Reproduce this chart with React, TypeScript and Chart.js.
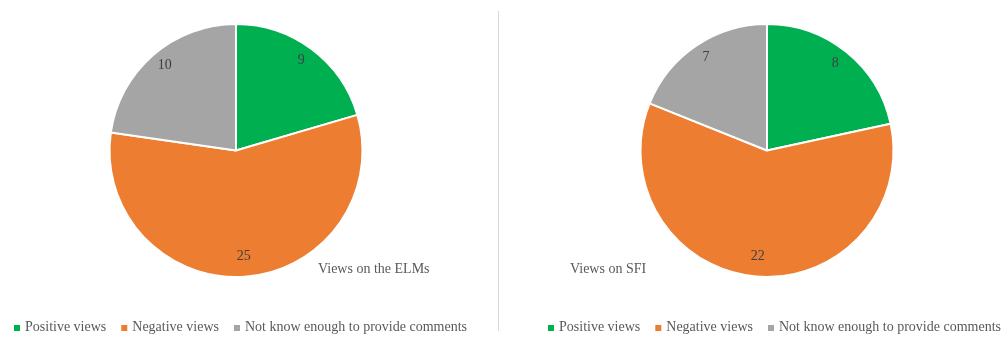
import React, { useEffect, useRef } from "react";
import { Chart, registerables } from "chart.js";

Chart.register(...registerables);

// Answer categories shared by both pies
const categories = [
  "Positive views",
  "Negative views",
  "Not know enough to provide comments",
];
// Counts of responses per category
const elmValues = [9, 25, 10];
const sfiValues = [8, 22, 7];
const sliceColors = ["#00B050", "#ED7D31", "#A5A5A5"];

const SERIF = '"Liberation Serif", "Times New Roman", serif';

// Value labels placed inside each slice along its bisector
const valueLabels = {
  id: "valueLabels",
  afterDatasetsDraw(chart: any, _args: any, opts: any) {
    const ctx = chart.ctx;
    const meta = chart.getDatasetMeta(0);
    const data = chart.data.datasets[0].data as number[];
    ctx.save();
    ctx.font = `14px ${SERIF}`;
    ctx.fillStyle = "#404040";
    ctx.textAlign = "center";
    ctx.textBaseline = "middle";
    meta.data.forEach((arc: any, i: number) => {
      const p = arc.getProps(["x", "y", "startAngle", "endAngle", "outerRadius"], true);
      const mid = (p.startAngle + p.endAngle) / 2;
      const r = p.outerRadius * (opts.radiusRatio ?? 0.86);
      ctx.fillText(
        String(data[i]),
        p.x + Math.cos(mid) * r,
        p.y + Math.sin(mid) * r + (opts.dy ?? 0)
      );
    });
    ctx.restore();
  },
};

// Caption text for each pie
const caption = {
  id: "caption",
  afterDraw(chart: any, _args: any, opts: any) {
    const ctx = chart.ctx;
    ctx.save();
    ctx.font = `14px ${SERIF}`;
    ctx.fillStyle = "#595959";
    ctx.textAlign = "left";
    ctx.textBaseline = "alphabetic";
    ctx.fillText(opts.text, opts.x, opts.y);
    ctx.restore();
  },
};

// Single-row legend with small square swatches sitting on the text baseline
const squareLegend = {
  id: "squareLegend",
  afterDraw(chart: any, _args: any, opts: any) {
    const ctx = chart.ctx;
    const labels = chart.data.labels as string[];
    const colors = chart.data.datasets[0].backgroundColor as string[];
    const box = 6;
    const textGap = 5;
    const itemGap = 15;
    ctx.save();
    ctx.font = `14px ${SERIF}`;
    const widths = labels.map((l) => box + textGap + ctx.measureText(l).width);
    const total = widths.reduce((a, b) => a + b, 0) + itemGap * (labels.length - 1);
    let x = opts.centerX - total / 2;
    const base = opts.baseline;
    ctx.textAlign = "left";
    ctx.textBaseline = "alphabetic";
    labels.forEach((l, i) => {
      ctx.fillStyle = colors[i];
      ctx.fillRect(x, base - box, box, box);
      ctx.fillStyle = "#595959";
      ctx.fillText(l, x + box + textGap, base);
      x += widths[i] + itemGap;
    });
    ctx.restore();
  },
};

type PieProps = {
  values: number[];
  width: number;
  left: number;
  padding: { left: number; right: number; top: number; bottom: number };
  captionText: string;
  captionX: number;
  legendCenter: number;
};

function Pie({ values, width, left, padding, captionText, captionX, legendCenter }: PieProps) {
  const ref = useRef<HTMLCanvasElement | null>(null);
  useEffect(() => {
    if (!ref.current) return;
    const chart = new Chart(ref.current, {
      type: "pie",
      data: {
        labels: categories,
        datasets: [
          {
            data: values,
            backgroundColor: sliceColors,
            borderColor: "#ffffff",
            borderWidth: 2,
            hoverOffset: 0,
          },
        ],
      },
      options: {
        responsive: false,
        animation: false,
        devicePixelRatio: 1,
        layout: { padding },
        plugins: {
          legend: { display: false },
          tooltip: { enabled: false },
          valueLabels: { radiusRatio: 0.86, dy: -3 },
          caption: { text: captionText, x: captionX, y: 273 },
          squareLegend: { centerX: legendCenter, baseline: 331 },
        } as any,
      },
      plugins: [valueLabels, caption, squareLegend],
    });
    return () => chart.destroy();
  }, []);
  return (
    <canvas
      ref={ref}
      width={width}
      height={337}
      style={{ position: "absolute", left, top: 0, width, height: 337 }}
    />
  );
}

export default function App() {
  return (
    <div
      style={{
        position: "absolute",
        left: 0,
        top: 0,
        width: 1003,
        height: 337,
        background: "#ffffff",
        overflow: "hidden",
      }}
    >
      <Pie
        values={elmValues}
        width={498}
        left={0}
        padding={{ left: 108.5, right: 134.5, top: 23, bottom: 59 }}
        captionText="Views on the ELMs"
        captionX={318}
        legendCenter={240.5}
      />
      <div
        style={{
          position: "absolute",
          left: 498,
          top: 11,
          width: 1,
          height: 320,
          background: "#d9d9d9",
        }}
      />
      <Pie
        values={sfiValues}
        width={503}
        left={500}
        padding={{ left: 139.5, right: 108.5, top: 23, bottom: 59 }}
        captionText="Views on SFI"
        captionX={70}
        legendCenter={274.5}
      />
    </div>
  );
}
